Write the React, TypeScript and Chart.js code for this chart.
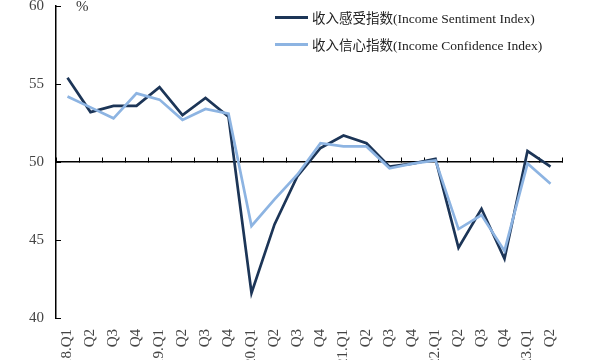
import React, { useEffect, useRef } from "react";
import { Chart, registerables } from "chart.js";

Chart.register(...registerables);

const quarterLabels = [
  "2018.Q1", "Q2", "Q3", "Q4",
  "2019.Q1", "Q2", "Q3", "Q4",
  "2020.Q1", "Q2", "Q3", "Q4",
  "2021.Q1", "Q2", "Q3", "Q4",
  "2022.Q1", "Q2", "Q3", "Q4",
  "2023.Q1", "Q2",
];

const sentimentLabel = "收入感受指数(Income Sentiment Index)";
const confidenceLabel = "收入信心指数(Income Confidence Index)";

const sentimentValues = [
  55.4, 53.2, 53.6, 53.6, 54.8, 53.0, 54.1, 52.9, 41.6, 46.0, 49.1,
  50.9, 51.7, 51.2, 49.7, 49.9, 50.2, 44.5, 47.0, 43.8, 50.7, 49.7,
];

const confidenceValues = [
  54.2, 53.5, 52.8, 54.4, 54.0, 52.7, 53.4, 53.1, 45.9, 47.6, 49.2,
  51.2, 51.0, 51.0, 49.6, 49.9, 50.1, 45.7, 46.6, 44.3, 49.9, 48.6,
];

const yMin = 40;
const yMax = 60;
const yStep = 5;
const baselineValue = 50;
const unitLabel = "%";

const DARK = "#1c3557";
const LIGHT = "#8db4e2";
const SERIF = '"Liberation Serif", "Times New Roman", "Noto Sans CJK SC", serif';

export default function App() {
  const canvasRef = useRef<HTMLCanvasElement | null>(null);

  useEffect(() => {
    document.body.style.margin = "0";
    const canvas = canvasRef.current;
    if (!canvas) return;
    const chart = new Chart(canvas, {
      type: "line",
      data: {
        labels: quarterLabels,
        datasets: [
          {
            label: sentimentLabel,
            data: sentimentValues,
            borderColor: DARK,
            backgroundColor: DARK,
            borderWidth: 2.7,
            pointRadius: 0,
            tension: 0,
            order: 1,
          },
          {
            label: confidenceLabel,
            data: confidenceValues,
            borderColor: LIGHT,
            backgroundColor: LIGHT,
            borderWidth: 2.7,
            pointRadius: 0,
            tension: 0,
            order: 0,
          },
        ],
      },
      options: {
        animation: false,
        responsive: false,
        maintainAspectRatio: false,
        devicePixelRatio: 1,
        layout: { padding: { top: 14, right: 38, bottom: 0, left: 0 } },
        plugins: {
          legend: { display: false },
          tooltip: { enabled: false },
        },
        scales: {
          x: {
            type: "category",
            position: "bottom",
            offset: true,
            border: { display: false },
            grid: { display: false, drawTicks: false },
            ticks: {
              autoSkip: false,
              minRotation: 90,
              maxRotation: 90,
              padding: 11,
              color: "#444",
              font: { family: SERIF, size: 15 },
            },
            afterFit: (s: any) => {
              s.height = 72;
            },
          },
          x2: {
            type: "category",
            position: { y: baselineValue } as any,
            offset: true,
            border: { display: true, color: "#000", width: 1.5 },
            grid: {
              display: true,
              offset: true,
              drawOnChartArea: false,
              drawTicks: true,
              tickLength: -5,
              color: "#000",
              lineWidth: 1,
            },
            ticks: { display: false },
          },
          y: {
            type: "linear",
            position: "left",
            min: yMin,
            max: yMax,
            border: { display: true, color: "#000", width: 1.5 },
            grid: {
              drawOnChartArea: false,
              drawTicks: true,
              tickLength: -5,
              color: "#000",
              lineWidth: 1,
            },
            ticks: {
              stepSize: yStep,
              padding: 17,
              color: "#444",
              font: { family: SERIF, size: 15 },
            },
            afterFit: (s: any) => {
              s.width = 56;
            },
          },
        },
      },
    });
    return () => chart.destroy();
  }, []);

  const legendRow = (top: number, color: string, text: string) => (
    <div
      style={{
        position: "absolute",
        left: 275,
        top: top - 10,
        height: 20,
        display: "flex",
        alignItems: "center",
        whiteSpace: "nowrap",
      }}
    >
      <span
        style={{
          display: "inline-block",
          width: 33,
          height: 3,
          background: color,
          marginRight: 4,
        }}
      />
      <span style={{ fontFamily: SERIF, fontSize: 13.5, color: "#222" }}>{text}</span>
    </div>
  );

  return (
    <div style={{ position: "relative", width: 600, height: 360, overflow: "hidden" }}>
      <div style={{ position: "absolute", left: 0, top: -20, width: 600, height: 410 }}>
        <canvas ref={canvasRef} width={600} height={410} style={{ width: 600, height: 410, display: "block" }} />
      </div>
      <div
        style={{
          position: "absolute",
          left: 76,
          top: -2,
          fontFamily: SERIF,
          fontSize: 15,
          color: "#333",
        }}
      >
        {unitLabel}
      </div>
      {legendRow(17, DARK, sentimentLabel)}
      {legendRow(44, LIGHT, confidenceLabel)}
    </div>
  );
}
